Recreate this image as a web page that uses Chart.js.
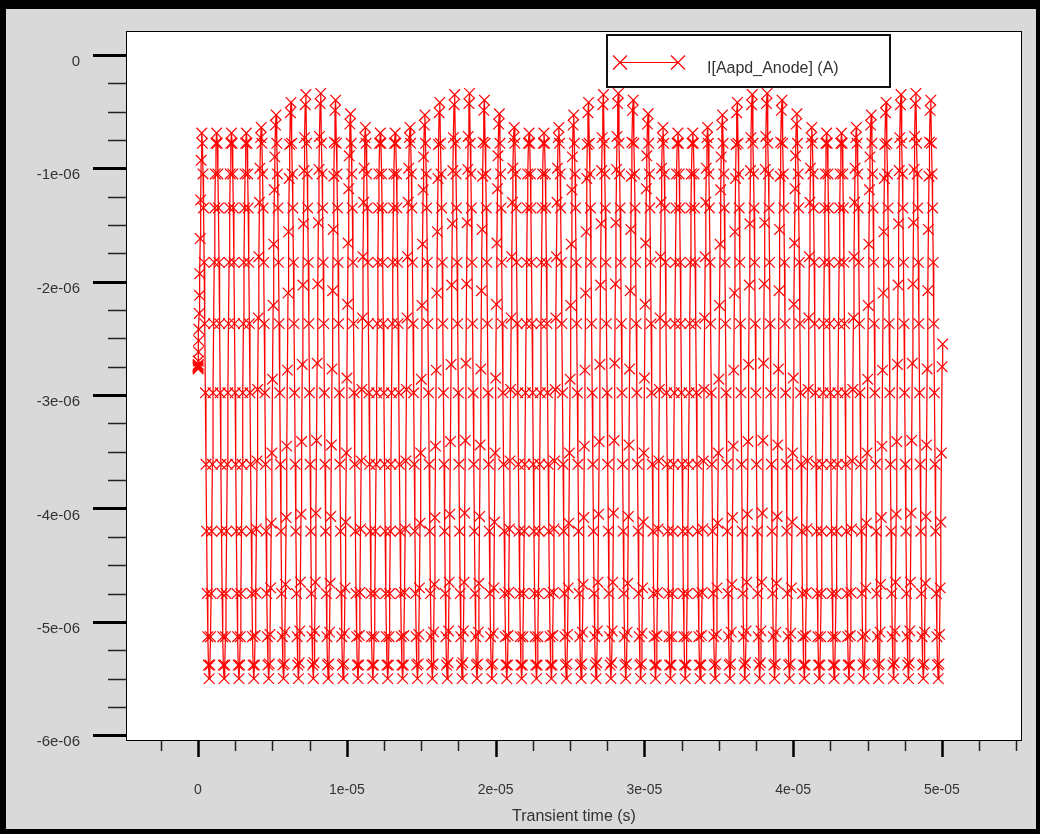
<!DOCTYPE html>
<html>
<head>
<meta charset="utf-8">
<script src="https://cdn.jsdelivr.net/npm/chart.js@4.4.1/dist/chart.umd.min.js"></script>
<style>
  html, body { margin: 0; padding: 0; background: #000; overflow: hidden; }
  #frame { position: absolute; left: 6px; top: 9px; width: 1030px; height: 820px; background: #d9d9d9; }
  #wrap { position: absolute; left: 0; top: 0; width: 1040px; height: 834px; }
</style>
</head>
<body>
<div id="frame"></div>
<div id="wrap"><canvas id="plot"></canvas></div>
<script>
// Units: time in microseconds, current in microamps (labels print them as e-05 s / e-06 A)

// axis ticks and visible ranges
const xTickValues = [0, 10, 20, 30, 40, 50];
const yTickValues = [0, -1, -2, -3, -4, -5, -6];
const xRange = [-4.84, 55.38];
const yRange = [-6.05, 0.21];

// start-up transient right after t = 0
const initTimes = [0, 0.003, 0.006, 0.01, 0.015, 0.02, 0.03, 0.045, 0.06, 0.08, 0.1, 0.12, 0.15, 0.18, 0.21, 0.25];
const initValues = [-2.75, -2.76, -2.74, -2.77, -2.73, -2.70, -2.62, -2.52, -2.42, -2.28, -2.12, -1.93, -1.62, -1.28, -0.93, -0.69];

// time of each top peak
const topTimes = [
  0.25, 1.25, 2.25, 3.25, 4.25, 5.25, 6.25, 7.25, 8.25, 9.25,
  10.25, 11.25, 12.25, 13.25, 14.25, 15.25, 16.25, 17.25, 18.25, 19.25,
  20.25, 21.25, 22.25, 23.25, 24.25, 25.25, 26.25, 27.25, 28.25, 29.25,
  30.25, 31.25, 32.25, 33.25, 34.25, 35.25, 36.25, 37.25, 38.25, 39.25,
  40.25, 41.25, 42.25, 43.25, 44.25, 45.25, 46.25, 47.25, 48.25, 49.25
];

// falling half of each cycle: sample offsets after the peak, and the flat bands they sit on
const fallOffsets = [0.044, 0.088, 0.121, 0.162, 0.201, 0.243, 0.285, 0.327, 0.371, 0.412, 0.451, 0.5];
const fallLevels = [-0.78, -1.05, -1.35, -1.83, -2.37, -2.98, -3.61, -4.20, -4.75, -5.13, -5.38, -5.50];

// rising half of each cycle: offsets after the peak, values drift up with the slow hump
const riseOffsets = [0.549, 0.588, 0.629, 0.673, 0.715, 0.757, 0.799, 0.838, 0.880, 0.912, 0.956, 1.0];
const riseFlat = [-5.38, -5.13, -4.75, -4.20, -3.61, -2.98, -2.37, -1.83, -1.35, -1.05, -0.78, -0.69];
const riseH05  = [-5.38, -5.12, -4.74, -4.18, -3.58, -2.95, -2.32, -1.78, -1.30, -1.00, -0.73, -0.64];
const riseH16  = [-5.37, -5.11, -4.70, -4.13, -3.51, -2.86, -2.21, -1.67, -1.19, -0.90, -0.62, -0.53];
const riseH17  = [-5.37, -5.10, -4.70, -4.12, -3.51, -2.85, -2.20, -1.66, -1.18, -0.89, -0.61, -0.52];
const riseH27  = [-5.37, -5.09, -4.67, -4.08, -3.45, -2.78, -2.10, -1.56, -1.09, -0.79, -0.51, -0.42];
const riseH29  = [-5.37, -5.09, -4.66, -4.07, -3.44, -2.77, -2.08, -1.54, -1.07, -0.77, -0.49, -0.40];
const riseH34  = [-5.36, -5.08, -4.65, -4.05, -3.41, -2.73, -2.03, -1.49, -1.02, -0.73, -0.44, -0.35];
const riseH35  = [-5.36, -5.08, -4.65, -4.04, -3.40, -2.72, -2.02, -1.48, -1.01, -0.72, -0.43, -0.34];
const riseEnd  = [-5.37, -5.11, -4.70, -4.12, -3.51, -2.75, -2.55];

const riseRows = [
  riseFlat, riseFlat, riseFlat, riseH05, riseH16, riseH27, riseH34, riseH35, riseH29, riseH17,
  riseH05, riseFlat, riseFlat, riseH05, riseH16, riseH27, riseH34, riseH35, riseH29, riseH17,
  riseH05, riseFlat, riseFlat, riseH05, riseH16, riseH27, riseH34, riseH35, riseH29, riseH17,
  riseH05, riseFlat, riseFlat, riseH05, riseH16, riseH27, riseH34, riseH35, riseH29, riseH17,
  riseH05, riseFlat, riseFlat, riseH05, riseH16, riseH27, riseH34, riseH35, riseH29, riseEnd
];

const seriesLabel = "I[Aapd_Anode] (A)";
const RED = "rgb(255, 0, 0)";

// build the point table for the line dataset
const points = [];
initTimes.forEach((t, i) => points.push({ x: t, y: initValues[i] }));
topTimes.forEach((t0, n) => {
  fallLevels.forEach((v, k) => points.push({ x: t0 + fallOffsets[k], y: v }));
  riseRows[n].forEach((v, k) => points.push({ x: t0 + riseOffsets[k], y: v }));
});

function stepValues(min, max, step, major) {
  const out = [];
  for (let i = Math.ceil(min / step); i * step <= max; i++) {
    const v = i * step;
    if (Math.abs(v / major - Math.round(v / major)) > 1e-6) out.push(v);
  }
  return out;
}

// white plot area, box, outside tick marks and the legend box
const framePlugin = {
  id: "framePlugin",
  beforeDraw(chart) {
    const { ctx, chartArea: a } = chart;
    ctx.save();
    ctx.fillStyle = "#fff";
    ctx.fillRect(a.left, a.top, a.right - a.left, a.bottom - a.top);
    ctx.restore();
  },
  afterDraw(chart) {
    const { ctx, chartArea: a } = chart;
    const xs = chart.scales.x, ys = chart.scales.y;
    ctx.save();
    ctx.strokeStyle = "#000";
    ctx.lineWidth = 1;
    ctx.strokeRect(a.left + 0.5, a.top + 0.5, a.right - a.left - 1, a.bottom - a.top - 1);

    // y ticks
    ctx.lineWidth = 3;
    yTickValues.forEach((v) => {
      const p = Math.round(ys.getPixelForValue(v)) + 0.5;
      ctx.beginPath(); ctx.moveTo(a.left - 33, p); ctx.lineTo(a.left, p); ctx.stroke();
    });
    ctx.lineWidth = 1.5;
    ctx.strokeStyle = "#222";
    stepValues(yRange[0], yRange[1], 0.25, 1).forEach((v) => {
      const p = Math.round(ys.getPixelForValue(v)) + 0.5;
      ctx.beginPath(); ctx.moveTo(a.left - 18, p); ctx.lineTo(a.left, p); ctx.stroke();
    });

    // x ticks
    ctx.strokeStyle = "#000";
    ctx.lineWidth = 2.5;
    xTickValues.forEach((v) => {
      const p = Math.round(xs.getPixelForValue(v)) + 0.5;
      ctx.beginPath(); ctx.moveTo(p, a.bottom); ctx.lineTo(p, a.bottom + 16); ctx.stroke();
    });
    ctx.lineWidth = 1.5;
    ctx.strokeStyle = "#222";
    stepValues(xRange[0], xRange[1], 2.5, 10).forEach((v) => {
      const p = Math.round(xs.getPixelForValue(v)) + 0.5;
      ctx.beginPath(); ctx.moveTo(p, a.bottom); ctx.lineTo(p, a.bottom + 10); ctx.stroke();
    });

    // legend
    ctx.fillStyle = "#fff";
    ctx.fillRect(607, 35, 283, 52);
    ctx.strokeStyle = "#111";
    ctx.lineWidth = 2;
    ctx.strokeRect(607, 35, 283, 52);
    ctx.strokeStyle = RED;
    ctx.lineWidth = 1.2;
    ctx.beginPath(); ctx.moveTo(620, 62.5); ctx.lineTo(678, 62.5); ctx.stroke();
    [620, 678].forEach((cx) => {
      ctx.beginPath();
      ctx.moveTo(cx - 7, 55.5); ctx.lineTo(cx + 7, 69.5);
      ctx.moveTo(cx - 7, 69.5); ctx.lineTo(cx + 7, 55.5);
      ctx.stroke();
    });
    ctx.fillStyle = "#333";
    ctx.font = "16px 'Liberation Sans', Arial, sans-serif";
    ctx.textBaseline = "middle";
    ctx.fillText(seriesLabel, 707, 69);
    ctx.restore();
  },
};

Chart.defaults.font.family = "'Liberation Sans', Arial, sans-serif";
Chart.defaults.color = "#333";

new Chart(document.getElementById("plot"), {
  type: "line",
  data: {
    datasets: [
      {
        label: seriesLabel,
        data: points,
        borderColor: RED,
        borderWidth: 1.25,
        pointStyle: "crossRot",
        pointRadius: 7.5,
        pointBorderColor: RED,
        pointBorderWidth: 1.2,
        pointBackgroundColor: "rgba(255, 0, 0, 0)",
        tension: 0,
        fill: false,
      },
    ],
  },
  options: {
    responsive: true,
    maintainAspectRatio: false,
    animation: false,
    events: [],
    layout: { padding: { left: 0, top: 31, right: 18, bottom: 0 } },
    plugins: { legend: { display: false }, tooltip: { enabled: false } },
    scales: {
      x: {
        type: "linear",
        min: xRange[0],
        max: xRange[1],
        grid: { display: false, drawTicks: true, tickLength: 39 },
        border: { display: false },
        afterBuildTicks: (s) => { s.ticks = xTickValues.map((v) => ({ value: v })); },
        afterFit: (s) => { s.height = 93; },
        ticks: {
          autoSkip: false,
          maxRotation: 0,
          padding: 2,
          font: { size: 14 },
          color: "#333",
          callback: (v) => (v === 0 ? "0" : v / 10 + "e-05"),
        },
        title: {
          display: true,
          text: "Transient time (s)",
          font: { size: 16 },
          color: "#333",
          padding: { top: 0, bottom: 8 },
        },
      },
      y: {
        type: "linear",
        min: yRange[0],
        max: yRange[1],
        grid: { display: false, drawTicks: true, tickLength: 44 },
        border: { display: false },
        afterBuildTicks: (s) => { s.ticks = yTickValues.map((v) => ({ value: v })); },
        afterFit: (s) => { s.width = 126; },
        ticks: {
          autoSkip: false,
          padding: 2,
          labelOffset: 7,
          font: { size: 15 },
          color: "#333",
          callback: (v) => (v === 0 ? "0" : v + "e-06"),
        },
      },
    },
  },
  plugins: [framePlugin],
});
</script>
</body>
</html>
